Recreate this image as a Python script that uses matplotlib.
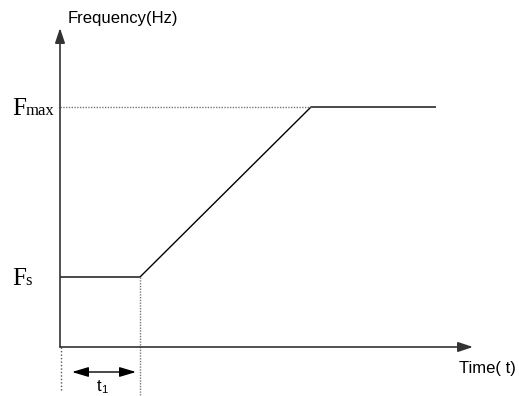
import matplotlib
matplotlib.use("Agg")
import matplotlib.pyplot as plt

# Data (arbitrary units: time from origin, frequency from origin)
time_pts = [0, 80, 251, 376]
freq_pts = [70, 70, 240, 240]
f_s = 70
f_max = 240
t1 = 80
x_axis_end = 413
y_axis_end = 319

fig = plt.figure(figsize=(5.19, 3.96), dpi=100)
ax = fig.add_axes([0, 0, 1, 1])
ax.set_xlim(-60, 459)
ax.set_ylim(-49, 347)
ax.axis("off")

axis_col = "#333333"
# axes with arrows
ax.annotate("", xy=(x_axis_end, 0), xytext=(0, 0),
            arrowprops=dict(arrowstyle="-|>,head_length=0.9,head_width=0.3",
                            color=axis_col, lw=1.2, shrinkA=0, shrinkB=0))
ax.annotate("", xy=(0, y_axis_end), xytext=(0, 0),
            arrowprops=dict(arrowstyle="-|>,head_length=0.9,head_width=0.3",
                            color=axis_col, lw=1.2, shrinkA=0, shrinkB=0))

# curve
ax.plot(time_pts, freq_pts, color="black", lw=1.0, solid_capstyle="butt")

# dotted guides
ax.plot([0, time_pts[2]], [f_max, f_max], color="#777777", lw=1.0, ls=(0, (1, 1)))
ax.plot([t1, t1], [f_s, -48], color="#777777", lw=1.0, ls=(0, (1, 1)))
ax.plot([1, 1], [0, -45], color="#555555", lw=1.0, ls=(0, (1, 1.5)))

# t1 double arrow
ax.annotate("", xy=(12, -25), xytext=(76, -25),
            arrowprops=dict(arrowstyle="<|-|>,head_length=1.0,head_width=0.3",
                            color="black", lw=1.0, shrinkA=0, shrinkB=0))

sans = ["Liberation Sans", "DejaVu Sans"]
serif = ["Liberation Serif", "DejaVu Serif"]

ax.text(8, 329, "Frequency(Hz)", fontsize=12, family=sans, va="center", ha="left")
ax.text(399, -21, "Time( t)", fontsize=12, family=sans, va="center", ha="left")

ax.text(-48, f_max - 8, "F", fontsize=18, family=serif, va="baseline", ha="left")
ax.text(-34.5, f_max - 8, "max", fontsize=12, family=serif, va="baseline", ha="left")
ax.text(-48, f_s - 8, "F", fontsize=18, family=serif, va="baseline", ha="left")
ax.text(-34.5, f_s - 8, "s", fontsize=12, family=serif, va="baseline", ha="left")

ax.text(37, -44, "t", fontsize=12, family=sans, va="baseline", ha="left")
ax.text(41.5, -46, "1", fontsize=8, family=sans, va="baseline", ha="left")

fig.savefig("out.png", dpi=100)
